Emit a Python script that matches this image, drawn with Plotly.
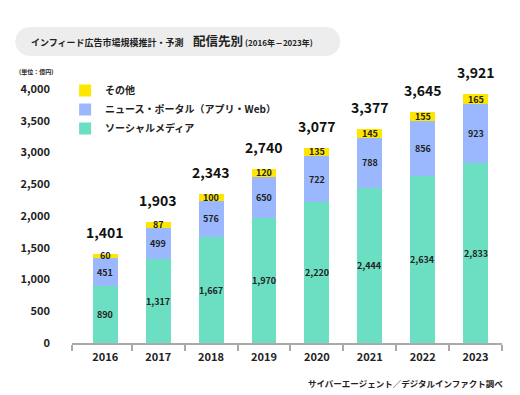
import plotly.graph_objects as go
import math

years = ["2016", "2017", "2018", "2019", "2020", "2021", "2022", "2023"]
social = [890, 1317, 1667, 1970, 2220, 2444, 2634, 2833]
news = [451, 499, 576, 650, 722, 788, 856, 923]
other = [60, 87, 100, 120, 135, 145, 155, 165]
totals = [1401, 1903, 2343, 2740, 3077, 3377, 3645, 3921]
names = ["ソーシャルメディア", "ニュース・ポータル（アプリ・Web）", "その他"]
colors = ["#6CDFC3", "#9BB8FF", "#FFE600"]
y_ticks = [0, 500, 1000, 1500, 2000, 2500, 3000, 3500, 4000]

FONT = "Noto Sans CJK JP"
OFF = 8  # page body offset
W, H = 520, 395
L, R, T, B = 65 - OFF, W - (502 - OFF), 89 - OFF, H - (343 - OFF)
PW, PH = W - L - R, H - T - B
XR = [-0.63, 7.5]

def px(x):  # window pixel -> paper
    return (x - OFF - L) / PW

def py(y):
    return (H - B - (y - OFF)) / PH

fig = go.Figure()
for vals, name, col in zip([social, news, other], names, colors):
    fig.add_trace(go.Bar(x=years, y=vals, name=name, marker=dict(color=col, line=dict(width=0)),
                         width=0.47, hoverinfo="skip"))
fig.add_trace(go.Scatter(x=[0], y=[0], xaxis="x2", mode="markers", marker=dict(opacity=0),
                         showlegend=False, hoverinfo="skip"))

ann = []
for i, yr in enumerate(years):
    base = 0
    for vals in (social, news, other):
        v = vals[i]
        ann.append(dict(x=i, y=base + v / 2, text=f"{v:,}", showarrow=False,
                        font=dict(family=FONT, size=9, color="#222", weight="bold")))
        base += v
    ann.append(dict(x=i, y=totals[i], text=f"{totals[i]:,}", showarrow=False, yshift=22,
                    font=dict(family=FONT, size=14, color="#111", weight="bold")))

ann += [
    dict(xref="paper", yref="paper", x=px(21), y=py(42), xanchor="left", yanchor="middle",
         text="インフィード広告市場規模推計・予測", showarrow=False,
         font=dict(family=FONT, size=9, color="#222", weight="bold")),
    dict(xref="paper", yref="paper", x=px(186), y=py(41), xanchor="left", yanchor="middle",
         text="配信先別", showarrow=False,
         font=dict(family=FONT, size=12.5, color="#222", weight="bold")),
    dict(xref="paper", yref="paper", x=px(239), y=py(42), xanchor="left", yanchor="middle",
         text="(2016年－2023年)", showarrow=False,
         font=dict(family=FONT, size=8, color="#222", weight="bold")),
    dict(xref="paper", yref="paper", x=px(9), y=py(72), xanchor="left", yanchor="middle",
         text="(単位：億円)", showarrow=False,
         font=dict(family=FONT, size=6, color="#222", weight="bold")),
    dict(xref="paper", yref="paper", x=px(505), y=py(383), xanchor="right", yanchor="middle",
         text="サイバーエージェント／デジタルインファクト調べ", showarrow=False,
         font=dict(family=FONT, size=8.5, color="#222", weight="bold")),
]

# rounded pill behind title (pixel-sized polygon)
r, w2 = 14.5, 162.5
pts = []
for k in range(13):
    a = -math.pi / 2 + math.pi * k / 12
    pts.append((w2 - r + r * math.cos(a), r * math.sin(a)))
for k in range(13):
    a = math.pi / 2 + math.pi * k / 12
    pts.append((-w2 + r + r * math.cos(a), r * math.sin(a)))
path = "M " + " L ".join(f"{x:.2f},{y:.2f}" for x, y in pts) + " Z"
shapes = [dict(type="path", xref="paper", yref="paper", xsizemode="pixel", ysizemode="pixel",
               xanchor=px(172.5), yanchor=py(41.5), path=path,
               fillcolor="#EDEDED", line=dict(width=0), layer="below")]

fig.update_layout(
    width=W, height=H, margin=dict(l=L, r=R, t=T, b=B),
    barmode="stack", plot_bgcolor="white", paper_bgcolor="white",
    font=dict(family=FONT, color="#222"),
    annotations=ann, shapes=shapes,
    legend=dict(x=px(58), y=py(76), xanchor="left", yanchor="top", traceorder="reversed",
                font=dict(family=FONT, size=10, color="#222", weight="bold"),
                bgcolor="rgba(0,0,0,0)", itemclick=False, tracegroupgap=0),
    xaxis=dict(type="category", range=XR, showgrid=False, showline=False,
               ticks="", tickangle=0, ticklabelstandoff=6,
               tickfont=dict(family=FONT, size=11, color="#222", weight="bold")),
    xaxis2=dict(overlaying="x", anchor="y", side="bottom", range=XR, showgrid=False,
                zeroline=False, showline=True, linecolor="#AAAAAA", linewidth=1.5,
                tickvals=[XR[0]] + [k + 0.5 for k in range(len(years))],
                showticklabels=False, ticks="outside", ticklen=6, tickwidth=1.5,
                tickcolor="#AAAAAA"),
    yaxis=dict(range=[0, 4000], showgrid=False, zeroline=False, showline=False,
               tickvals=y_ticks, tickformat=",", ticks="", ticklabelstandoff=21,
               tickfont=dict(family=FONT, size=11, color="#222", weight="bold")),
)

fig.write_html("out.html")
